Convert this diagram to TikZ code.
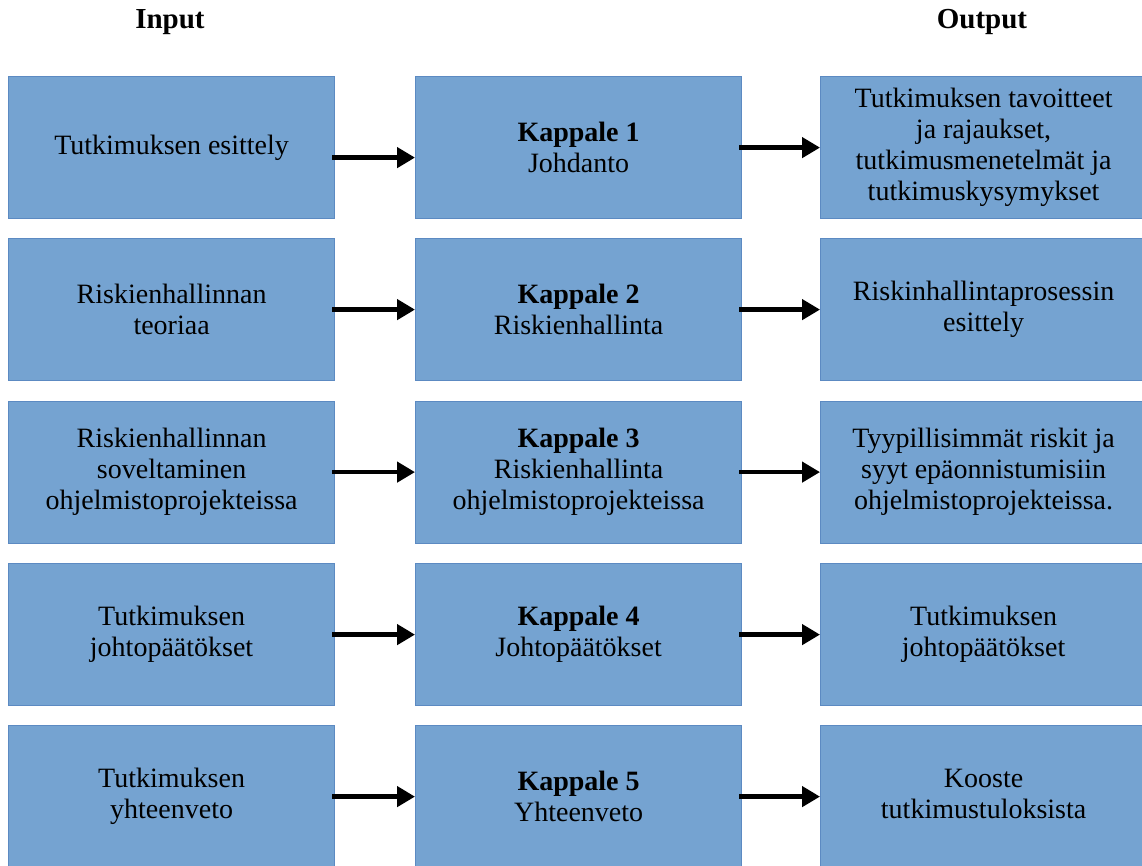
\documentclass[tikz,border=0pt]{standalone}
\usepackage{fontspec}
\setmainfont{Liberation Serif}
\usetikzlibrary{arrows.meta}
\definecolor{boxfill}{RGB}{117,163,209}
\definecolor{boxline}{RGB}{92,138,194}
\newcommand{\rcol}[1]{\begin{tabular}{@{}c@{}}#1\end{tabular}\hspace*{24pt}}
\begin{document}
\begin{tikzpicture}[x=1pt,y=-1pt,
  blk/.style={draw=boxline, fill=boxfill, line width=1.2pt, rectangle,
    anchor=north west, minimum width=326pt, minimum height=142pt,
    inner sep=0pt, align=center, font=\fontsize{28}{31}\selectfont},
  rblk/.style={blk, minimum width=350pt},
  hdr/.style={font=\fontsize{29}{31}\selectfont\bfseries, inner sep=0pt},
  arr/.style={line width=4.4pt, -{Triangle[length=18pt,width=20pt]}, shorten <=-3pt}]
\clip (0,0) rectangle (1142,866);
\fill[white] (0,0) rectangle (1142,866);
\node[hdr] (hin) at (170,22) {Input};
\node[hdr] (hout) at (982,22) {Output};
% column 1
\node[blk] (a1) at (8,76) {Tutkimuksen esittely};
\node[blk] (a2) at (8,238) {Riskienhallinnan\\teoriaa};
\node[blk] (a3) at (8,400.5) {Riskienhallinnan\\soveltaminen\\ohjelmistoprojekteissa};
\node[blk] (a4) at (8,563) {Tutkimuksen\\johtopäätökset};
\node[blk] (a5) at (8,725) {Tutkimuksen\\yhteenveto};
% column 2
\node[blk] (b1) at (415,76) {\textbf{Kappale 1}\\Johdanto};
\node[blk] (b2) at (415,238) {\textbf{Kappale 2}\\Riskienhallinta};
\node[blk] (b3) at (415,400.5) {\textbf{Kappale 3}\\Riskienhallinta\\ohjelmistoprojekteissa};
\node[blk] (b4) at (415,563) {\textbf{Kappale 4}\\Johtopäätökset};
\node[blk] (b5) at (415,725) {\textbf{Kappale 5}\\Yhteenveto};
% column 3
\node[rblk] (c1) at (820,76) {\rcol{Tutkimuksen tavoitteet\\ja rajaukset,\\tutkimusmenetelmät ja\\tutkimuskysymykset}};
\node[rblk] (c2) at (820,238) {\rcol{Riskinhallintaprosessin\\esittely}};
\node[rblk] (c3) at (820,400.5) {\rcol{Tyypillisimmät riskit ja\\syyt epäonnistumisiin\\ohjelmistoprojekteissa.}};
\node[rblk] (c4) at (820,563) {\rcol{Tutkimuksen\\johtopäätökset}};
\node[rblk] (c5) at (820,725) {\rcol{Kooste\\tutkimustuloksista}};
% arrows
\draw[arr] ([yshift=-10pt]a1.east) -- ([yshift=-10pt]b1.west);
\draw[arr] (b1.east) -- (c1.west);
\foreach \i in {2,...,5}{
  \draw[arr] (a\i.east) -- (b\i.west);
  \draw[arr] (b\i.east) -- (c\i.west);
}
\end{tikzpicture}
\end{document}
